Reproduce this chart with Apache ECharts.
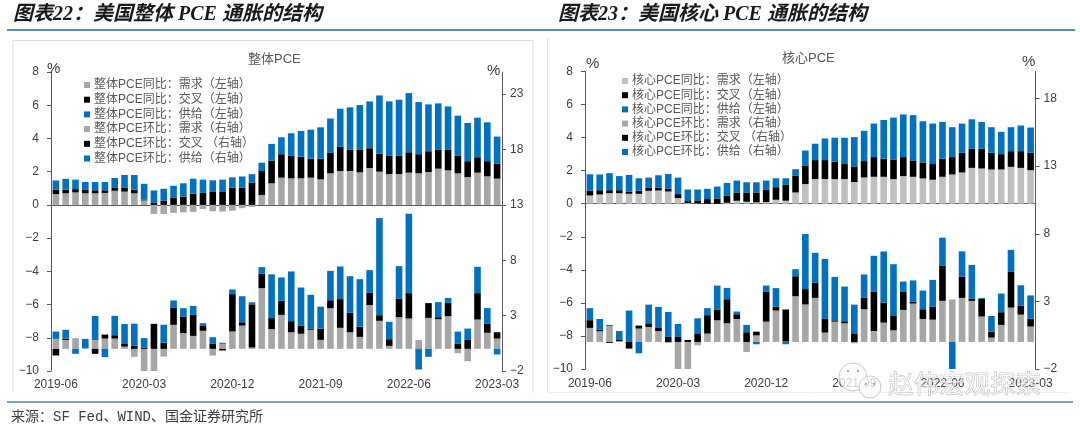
<!DOCTYPE html>
<html>
<head>
<meta charset="utf-8">
<script src="https://cdn.jsdelivr.net/npm/echarts@6/dist/echarts.min.js"></script>
<style>
html,body{margin:0;padding:0;background:#fff;}
#main{width:1080px;height:431px;}
</style>
</head>
<body>
<div id="main"></div>
<script>
var months = [];
for (var y = 2019, m = 6; y < 2023 || m <= 3; m++) {
    if (m > 12) { m = 1; y++; }
    months.push(y + '-' + (m < 10 ? '0' + m : m));
}

// 整体PCE 同比 (左轴)
var headYoyDemand = [.65,.7,.75,.7,.7,.72,.85,.8,.7,.27,-.55,-.55,-.48,-.45,-.42,-.25,-.38,-.4,-.35,-.2,-.12,.6,1.3,1.64,1.6,1.6,1.64,1.54,1.9,2.04,2.04,1.96,2.22,2.0,1.86,1.86,1.94,1.9,1.98,2.18,2.08,1.9,1.68,1.94,1.72,1.58];
var headYoyCross = [.27,.22,.2,.2,.18,.16,.17,.22,.22,.05,.15,.25,.42,.5,.68,.72,.78,.78,1.03,1.03,1.35,1.44,1.37,1.41,1.35,1.3,1.13,1.23,1.23,1.45,1.27,1.35,1.19,1.09,1.09,1.09,1.23,1.15,1.25,1.13,1.23,1.05,.95,.93,.91,.9];
var headYoySupply = [.55,.65,.57,.48,.5,.5,.6,.78,.88,.95,.72,.72,.73,.8,.9,.8,.7,.74,.63,.68,.5,.5,1.0,1.02,1.36,1.55,1.76,1.9,2.07,2.3,2.56,2.7,2.82,3.5,3.28,3.38,3.56,3.14,2.82,2.8,2.62,2.42,2.3,2.38,2.34,1.63];
// 整体PCE 环比 (右轴)
var headMomDemand = [.9,.8,.96,.05,.8,.93,.93,.2,-.72,-2.05,-2.05,-.7,2.17,1.42,1.17,1.63,-.6,.45,1.57,2.1,.12,5.48,1.78,3.07,1.5,1.36,1.72,.81,3.67,1.9,1.5,1.08,3.95,2.53,.27,2.86,2.74,.81,2.8,2.68,2.95,-.39,-1.11,2.65,1.45,.93];
var headMomCross = [-.6,.12,0,0,-.45,.36,.3,.24,.27,.12,2.26,.55,1.57,1.5,1.9,.48,.45,-.15,3.37,.3,3.9,1.3,1.0,1.27,1.0,.75,.12,1.0,.72,2.59,1.75,.93,1.11,.51,.6,1.69,2.29,-.06,1.33,.18,1.2,.45,.81,2.38,.81,.57];
var headMomSupply = [.66,.8,-.45,.85,2.17,-.75,1.75,1.8,2.0,.85,0,1.63,.63,.75,.81,.2,.6,.1,.42,2.35,.18,.6,3.95,2.11,4.49,3.43,3.04,2.0,2.65,2.95,3.31,4.28,2.05,8.77,1.57,2.92,7.17,-1.8,-.72,1.36,.45,1.11,1.02,2.38,1.42,-.51];
// 核心PCE 同比 (左轴)
var coreYoyDemand = [.5,.56,.64,.64,.6,.6,.78,.8,.74,.34,.04,.02,0,0,.06,.18,.12,.08,.1,.24,.18,.68,1.19,1.49,1.49,1.49,1.49,1.31,1.59,1.63,1.63,1.49,1.67,1.63,1.53,1.45,1.63,1.77,1.89,2.17,2.13,2.07,2.07,2.23,2.17,2.03];
var coreYoyCross = [.28,.26,.18,.18,.14,.18,.18,.16,.16,.24,.12,.18,.28,.32,.44,.5,.56,.6,.76,.76,.96,1.03,1.13,1.15,1.15,1.05,.91,.95,.99,1.19,1.09,1.19,1.15,.99,.97,.95,1.09,1.05,1.19,1.15,1.19,1.01,.93,.95,1.01,1.05];
var coreYoySupply = [1.0,.95,1.03,.85,1.0,.76,.62,.76,.9,1.0,.7,.66,.62,.72,.76,.72,.62,.62,.54,.54,.4,.38,.9,.99,1.31,1.45,1.59,1.77,1.83,2.03,2.35,2.53,2.58,2.74,2.49,2.45,2.23,1.81,1.77,1.79,1.63,1.55,1.35,1.45,1.55,1.53];
// 核心PCE 环比 (右轴)
var coreMomDemand = [1.04,.79,1.16,.07,0,.99,1.11,.81,-.07,-2.05,-2.05,-.25,.62,1.6,1.38,1.7,-.74,.49,1.5,2.32,.03,3.38,2.77,3.26,.69,1.5,1.38,-.1,2.42,.81,1.43,.86,2.37,2.84,1.7,1.65,3.04,3.14,3.26,3.04,1.88,.32,1.26,2.54,2.02,1.14];
var coreMomCross = [.57,.1,-.07,.12,-.49,.22,.27,.27,.37,.37,.15,.64,1.36,.77,1.78,.35,.72,.27,2.2,.3,2.37,1.48,1.14,1.11,1.01,.1,.15,.64,.84,2.89,1.48,1.11,1.33,.15,.72,.94,2.62,0,1.56,.17,1.33,.44,.94,2.64,.67,.57];
var coreMomSupply = [.89,.81,.1,.62,2.32,-.84,1.38,1.51,1.85,.96,0,1.11,.52,1.8,.84,.2,.54,-.17,.47,1.36,-.17,.52,4.07,2.22,4.44,3.21,2.57,2.12,1.73,2.67,3.78,3.78,.77,1.56,1.38,2.0,2.05,-2.07,1.88,2.49,.05,1.16,1.38,1.63,1.5,1.73];

var headRightTicks = [-2,3,8,13,18,23];
var coreRightTicks = [-2,3,8,13,18];

var GRAY = '#a6a6a6', LIGHTGRAY = '#c0c0c0', BLACK = '#000000', BLUE = '#0070c0';
var AXIS = '#595959', TEXT = '#404040';
var BAR_W = 6.6;
var FONT = '"Liberation Sans", "Noto Sans CJK SC", sans-serif';

function minusFmt(v) { return String(v).replace('-', '−'); }

function makeAxes(gridIndex, rightMin, rightMax, rightTicks, labelMargin) {
    return {
        x: [
            // the line across the zero of the left axis
            { type: 'category', gridIndex: gridIndex, data: months, position: 'bottom',
              axisLine: { onZero: true, onZeroAxisIndex: gridIndex * 2, lineStyle: { color: AXIS, width: 1 } },
              axisTick: { show: false }, axisLabel: { show: false }, splitLine: { show: false } },
            // the labels along the bottom
            { type: 'category', gridIndex: gridIndex, data: months, position: 'bottom',
              axisLine: { show: false, onZero: false }, axisTick: { show: false },
              axisLabel: { interval: 8, hideOverlap: false, showMaxLabel: true, margin: labelMargin, color: TEXT, fontSize: 12, fontFamily: FONT },
              splitLine: { show: false } }
        ],
        y: [
            { type: 'value', gridIndex: gridIndex, position: 'left', min: -10, max: 8, interval: 2,
              axisLine: { show: true, lineStyle: { color: AXIS, width: 1 } },
              axisTick: { show: true, length: 4, inside: false, lineStyle: { color: AXIS } },
              axisLabel: { margin: 12, color: TEXT, fontSize: 12, fontFamily: FONT, formatter: minusFmt },
              splitLine: { show: false } },
            { type: 'value', gridIndex: gridIndex, position: 'right', min: rightMin, max: rightMax,
              axisLine: { show: true, lineStyle: { color: AXIS, width: 1 } },
              axisTick: { show: true, length: 4, customValues: rightTicks, lineStyle: { color: AXIS } },
              axisLabel: { margin: 8, color: TEXT, fontSize: 12, fontFamily: FONT, customValues: rightTicks, formatter: minusFmt },
              splitLine: { show: false } }
        ]
    };
}

function barSeries(name, data, color, xIdx, yIdx, stack) {
    return {
        name: name, type: 'bar', data: data, xAxisIndex: xIdx, yAxisIndex: yIdx, stack: stack,
        barWidth: BAR_W, itemStyle: { color: color },
        silent: true, animation: false, clip: true
    };
}

var headAxes = makeAxes(0, -2, 25, headRightTicks, 8);
var coreAxes = makeAxes(1, -2, 20, coreRightTicks, 9);

var headNames = ['整体PCE同比：需求（左轴）','整体PCE同比：交叉（左轴）','整体PCE同比：供给（左轴）','整体PCE环比：需求（右轴）','整体PCE环比：交叉 （右轴）','整体PCE环比：供给（右轴）'];
var coreNames = ['核心PCE同比：需求（左轴）','核心PCE同比：交叉（左轴）','核心PCE同比：供给（左轴）','核心PCE环比：需求（右轴）','核心PCE环比：交叉 （右轴）','核心PCE环比：供给（右轴）'];

var series = [
    barSeries(headNames[3], headMomDemand, GRAY, 1, 1, 'headMom'),
    barSeries(headNames[4], headMomCross, BLACK, 1, 1, 'headMom'),
    barSeries(headNames[5], headMomSupply, BLUE, 1, 1, 'headMom'),
    barSeries(headNames[0], headYoyDemand, GRAY, 0, 0, 'headYoy'),
    barSeries(headNames[1], headYoyCross, BLACK, 0, 0, 'headYoy'),
    barSeries(headNames[2], headYoySupply, BLUE, 0, 0, 'headYoy'),
    barSeries(coreNames[3], coreMomDemand, GRAY, 3, 3, 'coreMom'),
    barSeries(coreNames[4], coreMomCross, BLACK, 3, 3, 'coreMom'),
    barSeries(coreNames[5], coreMomSupply, BLUE, 3, 3, 'coreMom'),
    barSeries(coreNames[0], coreYoyDemand, LIGHTGRAY, 2, 2, 'coreYoy'),
    barSeries(coreNames[1], coreYoyCross, BLACK, 2, 2, 'coreYoy'),
    barSeries(coreNames[2], coreYoySupply, BLUE, 2, 2, 'coreYoy')
];

function legendOf(names, left, top, gap) {
    return {
        orient: 'vertical', left: left, top: top, padding: 0, data: names, icon: 'rect',
        itemWidth: 6, itemHeight: 6, itemGap: gap, selectedMode: false,
        textStyle: { color: '#595959', fontSize: 12, lineHeight: 12, fontFamily: FONT, padding: [0, 0, 0, -1] }
    };
}

function label(text, x, y, size, extra) {
    var s = { text: text, fill: TEXT, font: size + 'px ' + FONT };
    for (var k in extra) s[k] = extra[k];
    return { type: 'text', left: x, top: y, silent: true, z: 10, style: s };
}

function hline(x1, x2, y, color, w) {
    return { type: 'line', silent: true, shape: { x1: x1, y1: y, x2: x2, y2: y }, style: { stroke: color, lineWidth: w } };
}
function vline(x, y1, y2, color, w) {
    return { type: 'line', silent: true, shape: { x1: x, y1: y1, x2: x, y2: y2 }, style: { stroke: color, lineWidth: w } };
}
function bubble(cx, cy, r) {
    return { type: 'circle', silent: true, z: 9, shape: { cx: cx, cy: cy, r: r }, style: { fill: 'rgba(255,255,255,.75)', stroke: 'rgba(175,175,175,.7)', lineWidth: 1 } };
}
function eye(cx, cy) {
    return { type: 'circle', silent: true, z: 9, shape: { cx: cx, cy: cy, r: 1.2 }, style: { fill: 'rgba(150,150,150,.8)' } };
}

var titleFont = 'italic bold 20px "Liberation Serif", "Noto Sans CJK SC", serif';

var chart = echarts.init(document.getElementById('main'), null, { renderer: 'canvas' });
chart.setOption({
    animation: false,
    backgroundColor: '#ffffff',
    grid: [
        { left: 51, right: 1080 - 502, top: 72, height: 299, containLabel: false },
        { left: 585, right: 1080 - 1035.5, top: 71.5, height: 297.5, containLabel: false }
    ],
    xAxis: headAxes.x.concat(coreAxes.x),
    yAxis: headAxes.y.concat(coreAxes.y),
    legend: [legendOf(headNames, 84, 79, 2.7), legendOf(coreNames, 622, 75, 2.2)],
    series: series,
    graphic: [
        label('图表22：美国整体 PCE 通胀的结构', 13, 5, 20, { font: titleFont, fill: '#1a1a1a' }),
        label('图表23：美国核心 PCE 通胀的结构', 558, 5, 20, { font: titleFont, fill: '#1a1a1a' }),
        hline(7, 1075, 30, '#1f6d94', 1.5),
        hline(7, 1073, 402, '#4f8aa8', 1.5),
        hline(13, 533, 40.5, '#dddddd', 1),
        vline(13, 40.5, 393, '#dddddd', 1),
        vline(533, 40.5, 393, '#dddddd', 1),
        vline(547.5, 38, 392, '#e2e2e2', 1),
        hline(547.5, 1070, 392.5, '#efefef', 1),
        label('整体PCE', 248, 53, 13, { fill: '#595959' }),
        label('核心PCE', 782, 52, 13, { fill: '#595959' }),
        label('%', 47, 61, 15),
        label('%', 487, 63, 15),
        label('%', 586, 56, 15),
        label('%', 1022, 54, 15),
        label('来源：SF Fed、WIND、国金证券研究所', 11, 410, 14, { fill: '#404040', font: '14px "Liberation Mono", "Noto Sans CJK SC", monospace' }),
        bubble(853, 377, 14),
        eye(848, 371), eye(858, 371),
        bubble(870, 387, 11),
        eye(866, 384), eye(874, 384),
        label('赵伟宏观探索', 888, 370, 25.5, { font: '25.5px "Noto Sans CJK SC", sans-serif', fill: 'rgba(255,255,255,.6)', stroke: 'rgba(165,165,165,.9)', lineWidth: 0.7 })
    ]
});
</script>
</body>
</html>
